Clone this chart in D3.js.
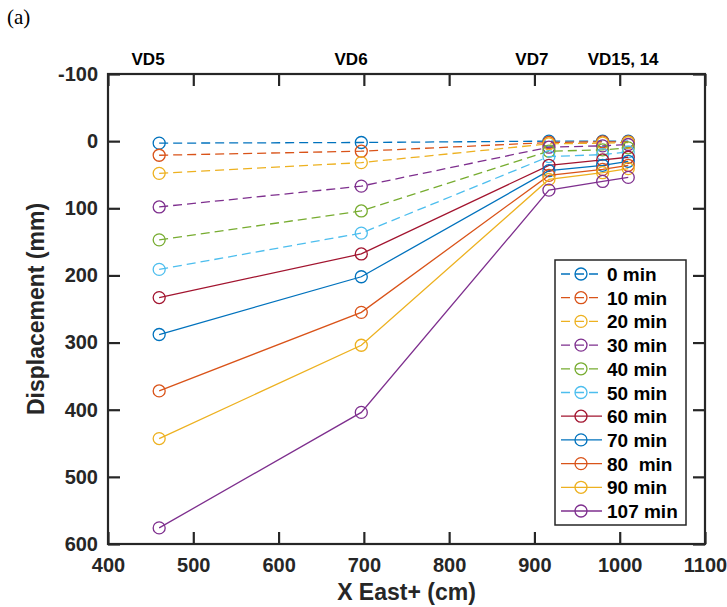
<!DOCTYPE html>
<html>
<head>
<meta charset="utf-8">
<script src="https://cdn.jsdelivr.net/npm/d3@7"></script>
<style>
  html, body { margin: 0; padding: 0; background: #fff; }
  svg { display: block; }
  text { font-family: "Liberation Sans", Arial, sans-serif; }
</style>
</head>
<body>
<svg id="chart" width="727" height="607"></svg>
<script>
// ---------------- data ----------------
const xPositions = [460, 697, 917, 980, 1010];
const seriesNames = ["0 min", "10 min", "20 min", "30 min", "40 min", "50 min",
                     "60 min", "70 min", "80  min", "90 min", "107 min"];
const s0   = [3, 2, 0, 0, 0];
const s10  = [21, 15, 2, 1, 1];
const s20  = [48, 32, 4, 3, 2];
const s30  = [98, 67, 9, 7, 5];
const s40  = [147, 104, 15, 13, 10];
const s50  = [191, 137, 23, 20, 16];
const s60  = [233, 168, 36, 28, 24];
const s70  = [288, 202, 44, 36, 30];
const s80  = [372, 255, 51, 42, 36];
const s90  = [443, 304, 57, 47, 41];
const s107 = [576, 404, 73, 60, 54];
const seriesValues = [s0, s10, s20, s30, s40, s50, s60, s70, s80, s90, s107];
const dashedSeries = [true, true, true, true, true, true, false, false, false, false, false];
const colors = ["#0072BD", "#D95319", "#EDB120", "#7E2F8E", "#77AC30", "#4DBEEE",
                "#A2142F", "#0072BD", "#D95319", "#EDB120", "#7E2F8E"];
const xTicks = [400, 500, 600, 700, 800, 900, 1000, 1100];
const yTicks = [-100, 0, 100, 200, 300, 400, 500, 600];
const topLabels = ["VD5", "VD6", "VD7", "VD15, 14"];
const topLabelX = [447, 685, 897, 1004];

// ---------------- layout ----------------
const svg = d3.select("#chart");
const L = 108, R = 705, T = 74, B = 544;
const x = d3.scaleLinear().domain([400, 1100]).range([L, R]);
const y = d3.scaleLinear().domain([-100, 600]).range([T, B]);
const axisColor = "#262626";
const tickLen = 12;
const plainFmt = d => String(d);

// data lines
const line = d3.line().x(d => x(d[0])).y(d => y(d[1]));
seriesValues.forEach((vals, i) => {
  const pts = vals.map((v, j) => [xPositions[j], v]);
  svg.append("path")
    .attr("d", line(pts))
    .attr("fill", "none")
    .attr("stroke", colors[i])
    .attr("stroke-width", 1.3)
    .attr("stroke-dasharray", dashedSeries[i] ? "9,5" : null);
  svg.selectAll(null).data(pts).enter().append("circle")
    .attr("cx", d => x(d[0])).attr("cy", d => y(d[1]))
    .attr("r", 6)
    .attr("fill", "none")
    .attr("stroke", colors[i])
    .attr("stroke-width", 1.3);
});

// axes box with inward ticks
const bottomAxis = d3.axisBottom(x).tickValues(xTicks).tickSize(-tickLen).tickPadding(14).tickFormat(plainFmt);
const topAxis = d3.axisTop(x).tickValues(xTicks).tickSize(-tickLen).tickFormat("");
const leftAxis = d3.axisLeft(y).tickValues(yTicks).tickSize(-tickLen).tickPadding(10).tickFormat(plainFmt);
const rightAxis = d3.axisRight(y).tickValues(yTicks).tickSize(-tickLen).tickFormat("");

function styleAxis(g) {
  g.select(".domain").attr("stroke", axisColor).attr("stroke-width", 2.2);
  g.selectAll(".tick line").attr("stroke", axisColor).attr("stroke-width", 2.2);
  g.selectAll(".tick text")
    .attr("fill", axisColor)
    .style("font-family", "'Liberation Sans', Arial, sans-serif")
    .style("font-weight", "bold")
    .style("font-size", "20px");
}
svg.append("g").attr("transform", `translate(0,${B})`).call(bottomAxis).call(styleAxis);
svg.append("g").attr("transform", `translate(0,${T})`).call(topAxis).call(styleAxis);
svg.append("g").attr("transform", `translate(${L},0)`).call(leftAxis).call(styleAxis);
svg.append("g").attr("transform", `translate(${R},0)`).call(rightAxis).call(styleAxis);
svg.selectAll(".domain").remove();
svg.append("rect")
  .attr("x", L).attr("y", T).attr("width", R - L).attr("height", B - T)
  .attr("fill", "none").attr("stroke", axisColor).attr("stroke-width", 2.2);

// axis labels
svg.append("text")
  .attr("x", (L + R) / 2).attr("y", 600)
  .attr("text-anchor", "middle")
  .attr("fill", axisColor)
  .style("font-weight", "bold").style("font-size", "23px")
  .text("X East+ (cm)");
svg.append("text")
  .attr("transform", `translate(44,${(T + B) / 2}) rotate(-90)`)
  .attr("text-anchor", "middle")
  .attr("fill", axisColor)
  .style("font-weight", "bold").style("font-size", "23px")
  .text("Displacement (mm)");

// top labels
svg.selectAll(null).data(topLabels).enter().append("text")
  .attr("x", (d, i) => x(topLabelX[i])).attr("y", 65)
  .attr("text-anchor", "middle")
  .attr("fill", "#000")
  .style("font-weight", "bold").style("font-size", "17px")
  .text(d => d);

// panel label
svg.append("text")
  .attr("x", 7).attr("y", 24)
  .style("font-family", "'Liberation Serif', 'Times New Roman', serif")
  .style("font-size", "21px")
  .attr("fill", "#000")
  .text("(a)");

// legend
const lg = svg.append("g");
const lx = 555, ly = 260, lw = 131, lh = 265;
lg.append("rect").attr("x", lx).attr("y", ly).attr("width", lw).attr("height", lh)
  .attr("fill", "#fff").attr("stroke", axisColor).attr("stroke-width", 1.5);
const rowH = 23.7;
seriesNames.forEach((name, i) => {
  const cy = ly + 14 + i * rowH;
  lg.append("line")
    .attr("x1", lx + 6).attr("x2", lx + 47).attr("y1", cy).attr("y2", cy)
    .attr("stroke", colors[i]).attr("stroke-width", 1.3)
    .attr("stroke-dasharray", dashedSeries[i] ? "9,5" : null);
  lg.append("circle").attr("cx", lx + 26).attr("cy", cy).attr("r", 6)
    .attr("fill", "none").attr("stroke", colors[i]).attr("stroke-width", 1.3);
  lg.append("text")
    .attr("x", lx + 52).attr("y", cy + 7)
    .attr("fill", "#000")
    .style("font-weight", "bold").style("font-size", "19px")
    .style("white-space", "pre")
    .attr("xml:space", "preserve")
    .text(name);
});
</script>
</body>
</html>
